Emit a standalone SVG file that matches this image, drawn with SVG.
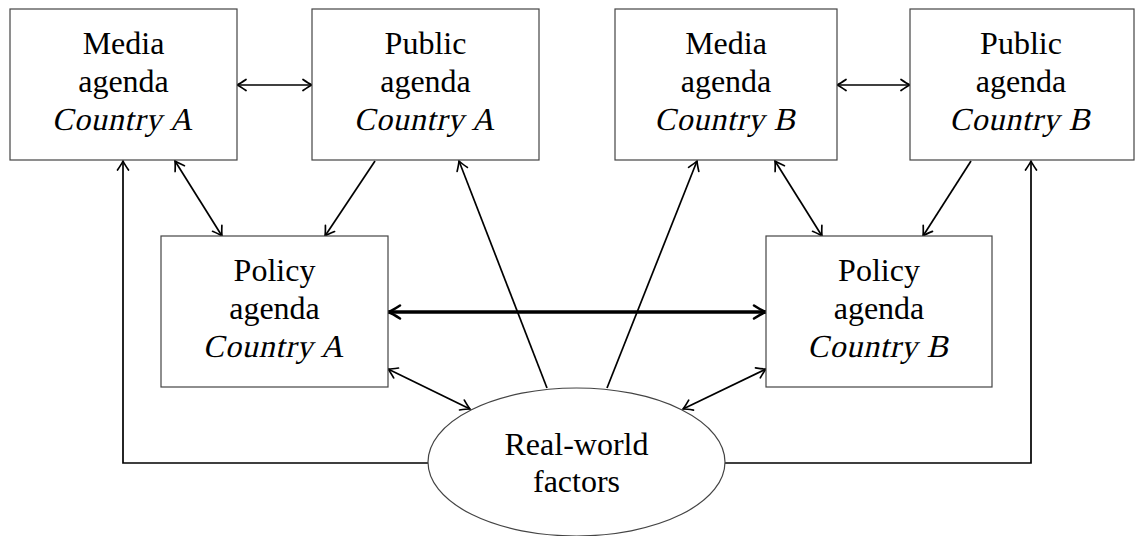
<svg xmlns="http://www.w3.org/2000/svg" width="1135" height="536" viewBox="0 0 1135 536">
<style>
.box{fill:#fff;stroke:#444;stroke-width:1.2}
.t{font-family:"Liberation Serif","Times New Roman",serif;font-size:32px;fill:#000;text-anchor:middle}
.i{font-style:normal;letter-spacing:0.8px}
.c{fill:none;stroke:#000;stroke-width:1.7}
.thick{fill:none;stroke:#000;stroke-width:3.4}
</style>
<defs>
<marker id="ah" markerUnits="userSpaceOnUse" viewBox="-14 -9 16 18" refX="0" refY="0" markerWidth="16" markerHeight="18" orient="auto-start-reverse">
<path d="M-9,-5.5 Q-3,-1.4 0,0 Q-3,1.4 -9,5.5" fill="none" stroke="#000" stroke-width="1.7" stroke-linecap="round"/>
</marker>
<marker id="ahT" markerUnits="userSpaceOnUse" viewBox="-16 -10 18 20" refX="0" refY="0" markerWidth="18" markerHeight="20" orient="auto-start-reverse">
<path d="M-12,-6.5 Q-4.5,-1.6 0,0 Q-4.5,1.6 -12,6.5" fill="none" stroke="#000" stroke-width="2.5" stroke-linecap="round"/>
</marker>
</defs>
<g id="connectors">
<line class="c" x1="237" y1="85" x2="312" y2="85" marker-start="url(#ah)" marker-end="url(#ah)"/>
<line class="c" x1="837" y1="85" x2="910" y2="85" marker-start="url(#ah)" marker-end="url(#ah)"/>
<line class="c" x1="175" y1="161" x2="222" y2="236" marker-start="url(#ah)" marker-end="url(#ah)"/>
<line class="c" x1="375" y1="161" x2="325" y2="236" marker-end="url(#ah)"/>
<line class="c" x1="775" y1="161" x2="822" y2="236" marker-start="url(#ah)" marker-end="url(#ah)"/>
<line class="c" x1="971" y1="161" x2="923" y2="236" marker-end="url(#ah)"/>
<line class="thick" x1="388" y1="312" x2="766" y2="312" marker-start="url(#ahT)" marker-end="url(#ahT)"/>
<line class="c" x1="388" y1="369" x2="470" y2="409" marker-start="url(#ah)" marker-end="url(#ah)"/>
<line class="c" x1="766" y1="369" x2="683" y2="409" marker-start="url(#ah)" marker-end="url(#ah)"/>
<line class="c" x1="547" y1="388" x2="459" y2="161" marker-end="url(#ah)"/>
<line class="c" x1="607" y1="388" x2="697" y2="161" marker-end="url(#ah)"/>
<path class="c" d="M428,463 H123 V161" marker-end="url(#ah)"/>
<path class="c" d="M725,463 H1031 V161" marker-end="url(#ah)"/>
</g>
<g id="media-a">
<rect class="box" x="10" y="9" width="227" height="151"/>
<text class="t" x="123.5" y="54">Media</text>
<text class="t" x="123.5" y="92">agenda</text>
<g transform="translate(122.5,130) skewX(-13)"><text class="t i" x="0" y="0">Country A</text></g>
</g>
<g id="public-a">
<rect class="box" x="312" y="9" width="227" height="151"/>
<text class="t" x="425.5" y="54">Public</text>
<text class="t" x="425.5" y="92">agenda</text>
<g transform="translate(424.5,130) skewX(-13)"><text class="t i" x="0" y="0">Country A</text></g>
</g>
<g id="media-b">
<rect class="box" x="615" y="9" width="222" height="151"/>
<text class="t" x="726" y="54">Media</text>
<text class="t" x="726" y="92">agenda</text>
<g transform="translate(725,130) skewX(-13)"><text class="t i" x="0" y="0">Country B</text></g>
</g>
<g id="public-b">
<rect class="box" x="910" y="9" width="224" height="151"/>
<text class="t" x="1021" y="54">Public</text>
<text class="t" x="1021" y="92">agenda</text>
<g transform="translate(1020,130) skewX(-13)"><text class="t i" x="0" y="0">Country B</text></g>
</g>
<g id="policy-a">
<rect class="box" x="161" y="236" width="227" height="151"/>
<text class="t" x="274.5" y="281">Policy</text>
<text class="t" x="274.5" y="319">agenda</text>
<g transform="translate(273.5,357) skewX(-13)"><text class="t i" x="0" y="0">Country A</text></g>
</g>
<g id="policy-b">
<rect class="box" x="766" y="236" width="226" height="151"/>
<text class="t" x="879" y="281">Policy</text>
<text class="t" x="879" y="319">agenda</text>
<g transform="translate(878,357) skewX(-13)"><text class="t i" x="0" y="0">Country B</text></g>
</g>
<g id="real-world">
<ellipse class="box" cx="576.5" cy="462" rx="148.5" ry="74"/>
<text class="t" x="576.5" y="455">Real-world</text>
<text class="t" x="576.5" y="492">factors</text>
</g>
</svg>
